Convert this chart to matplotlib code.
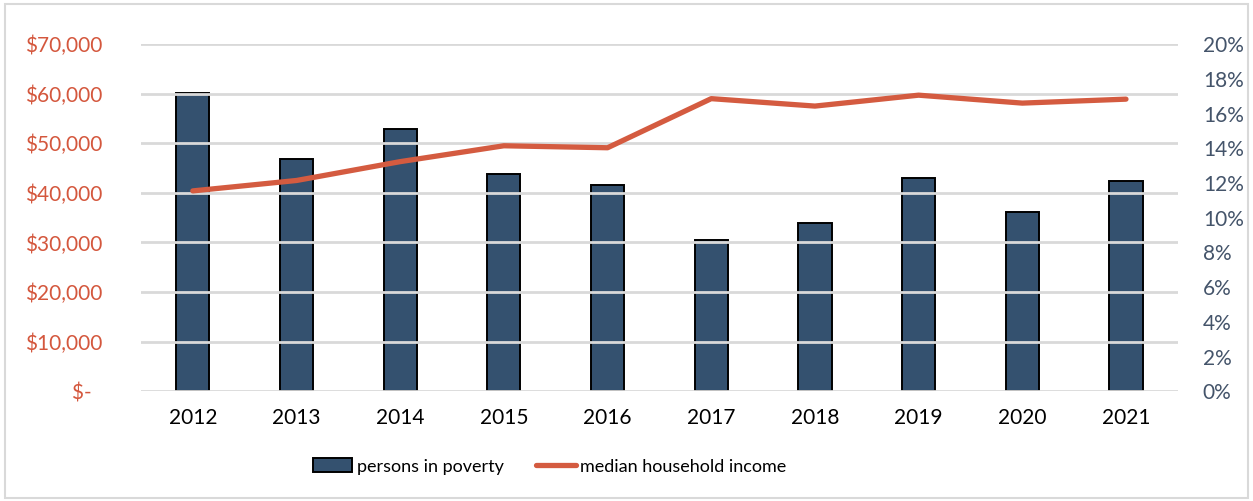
import matplotlib
matplotlib.use("Agg")
import matplotlib.pyplot as plt
from matplotlib.ticker import FuncFormatter, MultipleLocator
from matplotlib.patches import Rectangle

years = ["2012", "2013", "2014", "2015", "2016", "2017", "2018", "2019", "2020", "2021"]
poverty_pct = [17.2, 13.4, 15.1, 12.5, 11.9, 8.7, 9.7, 12.3, 10.3, 12.1]
median_income = [40400, 42500, 46300, 49500, 49100, 59000, 57500, 59700, 58100, 58900]

BAR = "#34516F"
LINE = "#D45B40"
LEFT_TXT = "#D4573D"
RIGHT_TXT = "#44546A"
GRID = "#D9D9D9"

plt.rcParams['font.family'] = ['Lato', 'DejaVu Sans']

fig = plt.figure(figsize=(12.53, 5.01), dpi=100)
fig.patches.append(Rectangle((0.004, 0.006), 0.992, 0.986, transform=fig.transFigure,
                             fill=False, edgecolor="#D9D9D9", linewidth=1.5))
ax = fig.add_axes([0.1125, 0.219, 0.8275, 0.693])
ax2 = ax.twinx()

x = list(range(len(years)))

# bars on right axis (percent)
ax2.bar(x, poverty_pct, width=0.32, color=BAR, edgecolor="black", linewidth=1.4,
        label="persons in poverty", zorder=2)
ax2.set_ylim(0, 20)
ax2.yaxis.set_major_locator(MultipleLocator(2))
ax2.yaxis.set_major_formatter(FuncFormatter(lambda v, p: f"{int(round(v))}%"))

# line on left axis (dollars)
ax.set_ylim(0, 70000)
ax.yaxis.set_major_locator(MultipleLocator(10000))
ax.yaxis.set_major_formatter(FuncFormatter(lambda v, p: "$-\u2002" if v == 0 else f"${int(v):,}"))
ax.set_xlim(-0.5, len(years) - 0.5)
ax.set_xticks(x)
ax.set_xticklabels(years)

ax.set_zorder(ax2.get_zorder() + 1)
ax.patch.set_visible(False)
ax.grid(False)
# gridlines drawn over the bars (as in the reference), below the line
for v in range(0, 70001, 10000):
    ax2.axhline(v / 70000 * 20, color=GRID, linewidth=2, zorder=3)
line, = ax.plot(x, median_income, color=LINE, linewidth=3.8, solid_capstyle="round",
                label="median household income", zorder=3)

for a in (ax, ax2):
    for s in a.spines.values():
        s.set_visible(False)

ax.tick_params(axis="y", length=0, labelsize=15, labelcolor=LEFT_TXT, pad=28)
ax.tick_params(axis="x", length=0, labelsize=15, labelcolor="black", pad=12)
ax2.tick_params(axis="y", length=0, labelsize=15, labelcolor=RIGHT_TXT, pad=18)

handles = [ax2.containers[0], line]
leg = fig.legend(handles, ["persons in poverty", "median household income"],
                 loc="center", bbox_to_anchor=(0.4386, 0.069), ncol=2, frameon=False,
                 fontsize=13, handlelength=2.2, handleheight=0.8, columnspacing=1.8,
                 handletextpad=0.25)

fig.savefig("out.png", dpi=100)
